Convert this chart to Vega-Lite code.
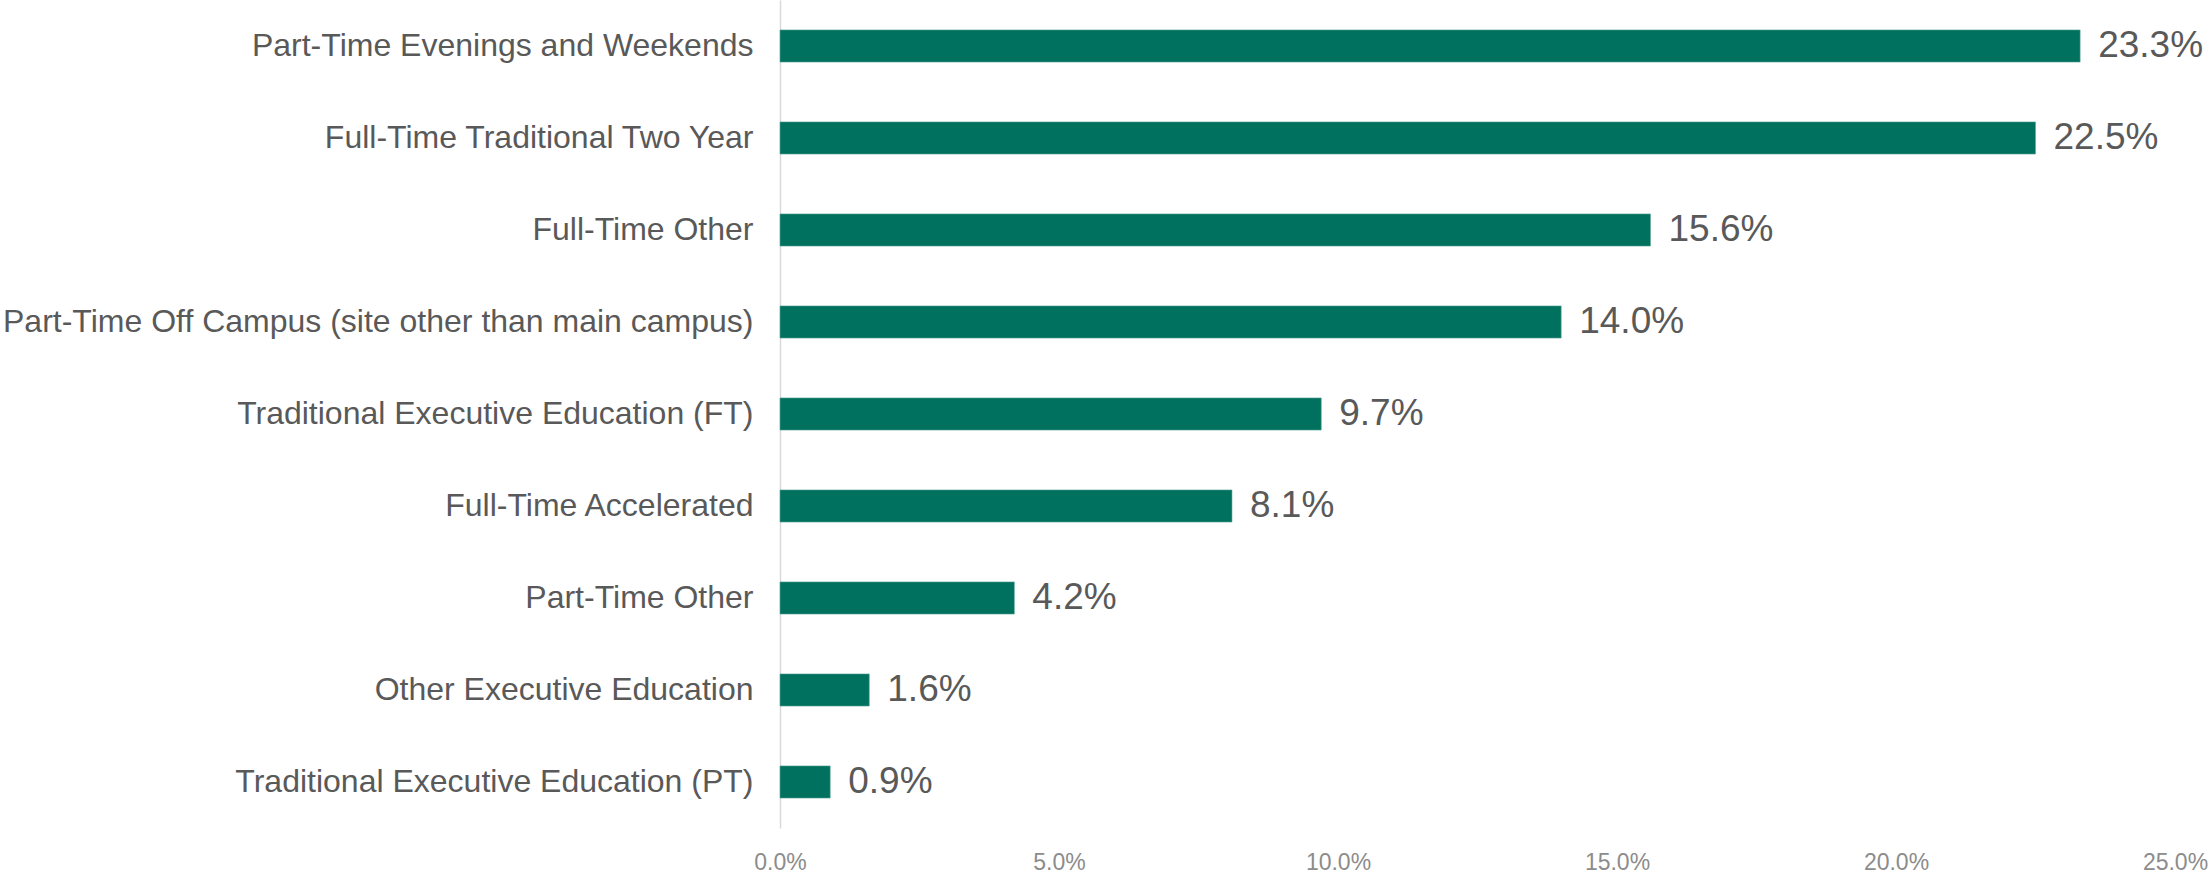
{
  "$schema": "https://vega.github.io/schema/vega-lite/v6.json",
  "width": 1395,
  "height": 828,
  "autosize": {"type": "none"},
  "padding": {"left": 780, "top": 0, "right": 37, "bottom": 51},
  "background": "white",
  "config": {"view": {"stroke": null}, "font": "Liberation Sans"},
  "data": {
    "values": [
      {"category": "Part-Time Evenings and Weekends", "share": 0.233},
      {"category": "Full-Time Traditional Two Year", "share": 0.225},
      {"category": "Full-Time Other", "share": 0.156},
      {"category": "Part-Time Off Campus (site other than main campus)", "share": 0.140},
      {"category": "Traditional Executive Education (FT)", "share": 0.097},
      {"category": "Full-Time Accelerated", "share": 0.081},
      {"category": "Part-Time Other", "share": 0.042},
      {"category": "Other Executive Education", "share": 0.016},
      {"category": "Traditional Executive Education (PT)", "share": 0.009}
    ]
  },
  "encoding": {
    "y": {
      "field": "category",
      "type": "nominal",
      "sort": null,
      "scale": {"paddingInner": 0.65, "paddingOuter": 0.325},
      "axis": {
        "title": null,
        "ticks": false,
        "domain": true,
        "domainColor": "#d9d9d9",
        "domainWidth": 1.5,
        "labelFontSize": 32,
        "labelColor": "#595959",
        "labelPadding": 27,
        "labelLimit": 0
      }
    },
    "x": {
      "field": "share",
      "type": "quantitative",
      "scale": {"domain": [0, 0.25], "nice": false},
      "axis": {
        "title": null,
        "values": [0, 0.05, 0.1, 0.15, 0.2, 0.25],
        "format": ".1%",
        "grid": false,
        "domain": false,
        "ticks": false,
        "labelFontSize": 23,
        "labelColor": "#8c8c8c",
        "labelPadding": 23,
        "labelFlush": false
      }
    }
  },
  "layer": [
    {"mark": {"type": "bar", "color": "#00705F", "stroke": "#5fa898", "strokeWidth": 0.6}},
    {
      "mark": {"type": "text", "align": "left", "baseline": "middle", "dx": 18, "fontSize": 37, "color": "#595959"},
      "encoding": {"text": {"field": "share", "type": "quantitative", "format": ".1%"}}
    }
  ]
}
